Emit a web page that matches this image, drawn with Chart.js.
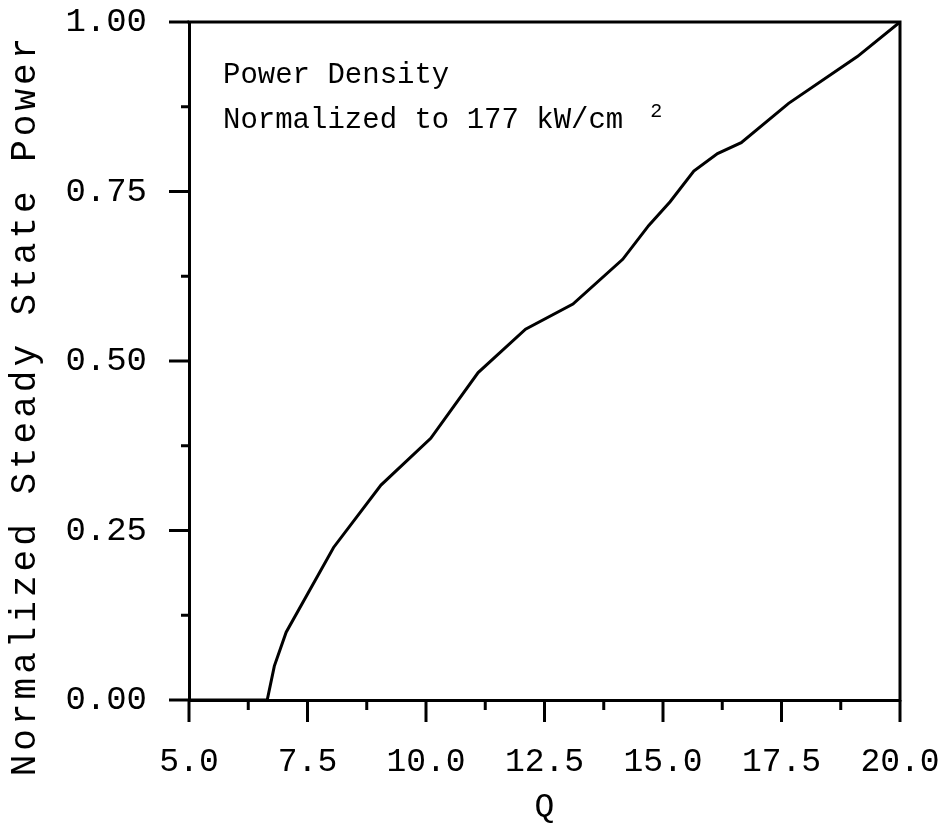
<!DOCTYPE html>
<html>
<head>
<meta charset="utf-8">
<script src="https://cdn.jsdelivr.net/npm/chart.js@4/dist/chart.umd.min.js"></script>
<style>
html,body{margin:0;padding:0;background:#fff;}
#wrap{width:939px;height:831px;}
canvas{display:block;}
</style>
</head>
<body>
<div id="wrap"><canvas id="c" width="939" height="831"></canvas></div>
<script>
// ---- data ----
const qValues     = [5.0, 6.65, 6.8, 7.05, 8.05, 9.05, 10.1, 11.1, 12.1, 13.1, 14.15, 14.7, 15.15, 15.65, 16.15, 16.65, 17.65, 19.1, 20.0];
const powerValues = [0.0, 0.0, 0.05, 0.10, 0.225, 0.317, 0.386, 0.483, 0.547, 0.584, 0.650, 0.700, 0.735, 0.780, 0.806, 0.822, 0.880, 0.949, 1.0];

const xTickValues  = [5.0, 7.5, 10.0, 12.5, 15.0, 17.5, 20.0];
const xMinorValues = [6.25, 8.75, 11.25, 13.75, 16.25, 18.75];
const yTickValues  = [0.00, 0.25, 0.50, 0.75, 1.00];
const yMinorValues = [0.125, 0.375, 0.625, 0.875];

const xTitle = 'Q';
const yTitle = 'Normalized Steady State Power';
const noteLine1 = 'Power Density';
const noteLine2 = 'Normalized to 177 kW/cm';
const noteSup = '2';

const FONT = '"Liberation Mono", "DejaVu Sans Mono", monospace';

const points = qValues.map((q, i) => ({x: q, y: powerValues[i]}));

const framePlugin = {
  id: 'frameTicks',
  beforeDraw(chart) {
    const ys = chart.scales.y;
    if (ys && !ys._wrappedTitle) {
      const orig = ys.drawTitle;
      ys.drawTitle = function () {
        const ctx = this.ctx;
        ctx.save();
        ctx.letterSpacing = '4px';
        ctx.translate(0, 44);
        orig.call(this);
        ctx.restore();
      };
      ys._wrappedTitle = true;
    }
  },
  afterDraw(chart) {
    const {ctx, chartArea: a, scales: {x, y}} = chart;
    ctx.save();
    ctx.strokeStyle = '#000';
    ctx.lineWidth = 3;
    ctx.lineCap = 'square';
    // top and right frame lines
    ctx.beginPath();
    ctx.moveTo(a.left, a.top);
    ctx.lineTo(a.right, a.top);
    ctx.lineTo(a.right, a.bottom);
    ctx.stroke();
    // y ticks (outside, left)
    ctx.lineCap = 'butt';
    const yTick = (v, len) => {
      const p = y.getPixelForValue(v);
      ctx.beginPath(); ctx.moveTo(a.left - len, p); ctx.lineTo(a.left, p); ctx.stroke();
    };
    yTickValues.forEach(v => yTick(v, 20));
    yMinorValues.forEach(v => yTick(v, 8));
    const xTick = (v, len) => {
      const p = x.getPixelForValue(v);
      ctx.beginPath(); ctx.moveTo(p, a.bottom); ctx.lineTo(p, a.bottom + len); ctx.stroke();
    };
    xTickValues.forEach(v => xTick(v, 22));
    xMinorValues.forEach(v => xTick(v, 10));
    // annotation text
    ctx.fillStyle = '#000';
    ctx.textAlign = 'left';
    ctx.textBaseline = 'alphabetic';
    ctx.font = '29px ' + FONT;
    const tx = a.left + 34;
    ctx.fillText(noteLine1, tx, a.top + 61);
    ctx.fillText(noteLine2, tx, a.top + 106);
    const w = ctx.measureText(noteLine2).width;
    ctx.font = '20px ' + FONT;
    ctx.fillText(noteSup, tx + w + 27, a.top + 95);
    ctx.restore();
  }
};

new Chart(document.getElementById('c'), {
  type: 'scatter',
  data: {
    datasets: [{
      data: points,
      showLine: true,
      borderColor: '#000',
      backgroundColor: '#000',
      borderWidth: 3,
      pointRadius: 0,
      tension: 0,
      fill: false
    }]
  },
  options: {
    responsive: false,
    animation: false,
    devicePixelRatio: 1,
    layout: {padding: {left: 0, top: 22, right: 39, bottom: 0}},
    plugins: {legend: {display: false}, tooltip: {enabled: false}},
    scales: {
      x: {
        type: 'linear',
        min: 5, max: 20,
        grid: {display: false, drawTicks: false},
        border: {display: true, color: '#000', width: 3},
        afterBuildTicks: s => { s.ticks = xTickValues.map(v => ({value: v})); },
        afterFit: s => { s.height = 131; s.paddingLeft = 0; s.paddingRight = 0; },
        ticks: {
          autoSkip: false, maxRotation: 0, minRotation: 0,
          color: '#000', padding: 42,
          font: {family: FONT, size: 33},
          callback: v => Number(v).toFixed(1)
        },
        title: {
          display: true, text: xTitle, color: '#000',
          font: {family: FONT, size: 33},
          padding: {top: 0, bottom: 4}
        }
      },
      y: {
        type: 'linear',
        min: 0, max: 1,
        grid: {display: false, drawTicks: false},
        border: {display: true, color: '#000', width: 3},
        afterBuildTicks: s => { s.ticks = yTickValues.map(v => ({value: v})); },
        afterFit: s => { s.width = 189; s.paddingTop = 0; s.paddingBottom = 0; },
        ticks: {
          color: '#000', padding: 42,
          font: {family: FONT, size: 34},
          callback: v => Number(v).toFixed(2)
        },
        title: {
          display: true, text: yTitle, color: '#000',
          font: {family: FONT, size: 36},
          padding: {top: 4, bottom: 0}
        }
      }
    }
  },
  plugins: [framePlugin]
});
</script>
</body>
</html>
